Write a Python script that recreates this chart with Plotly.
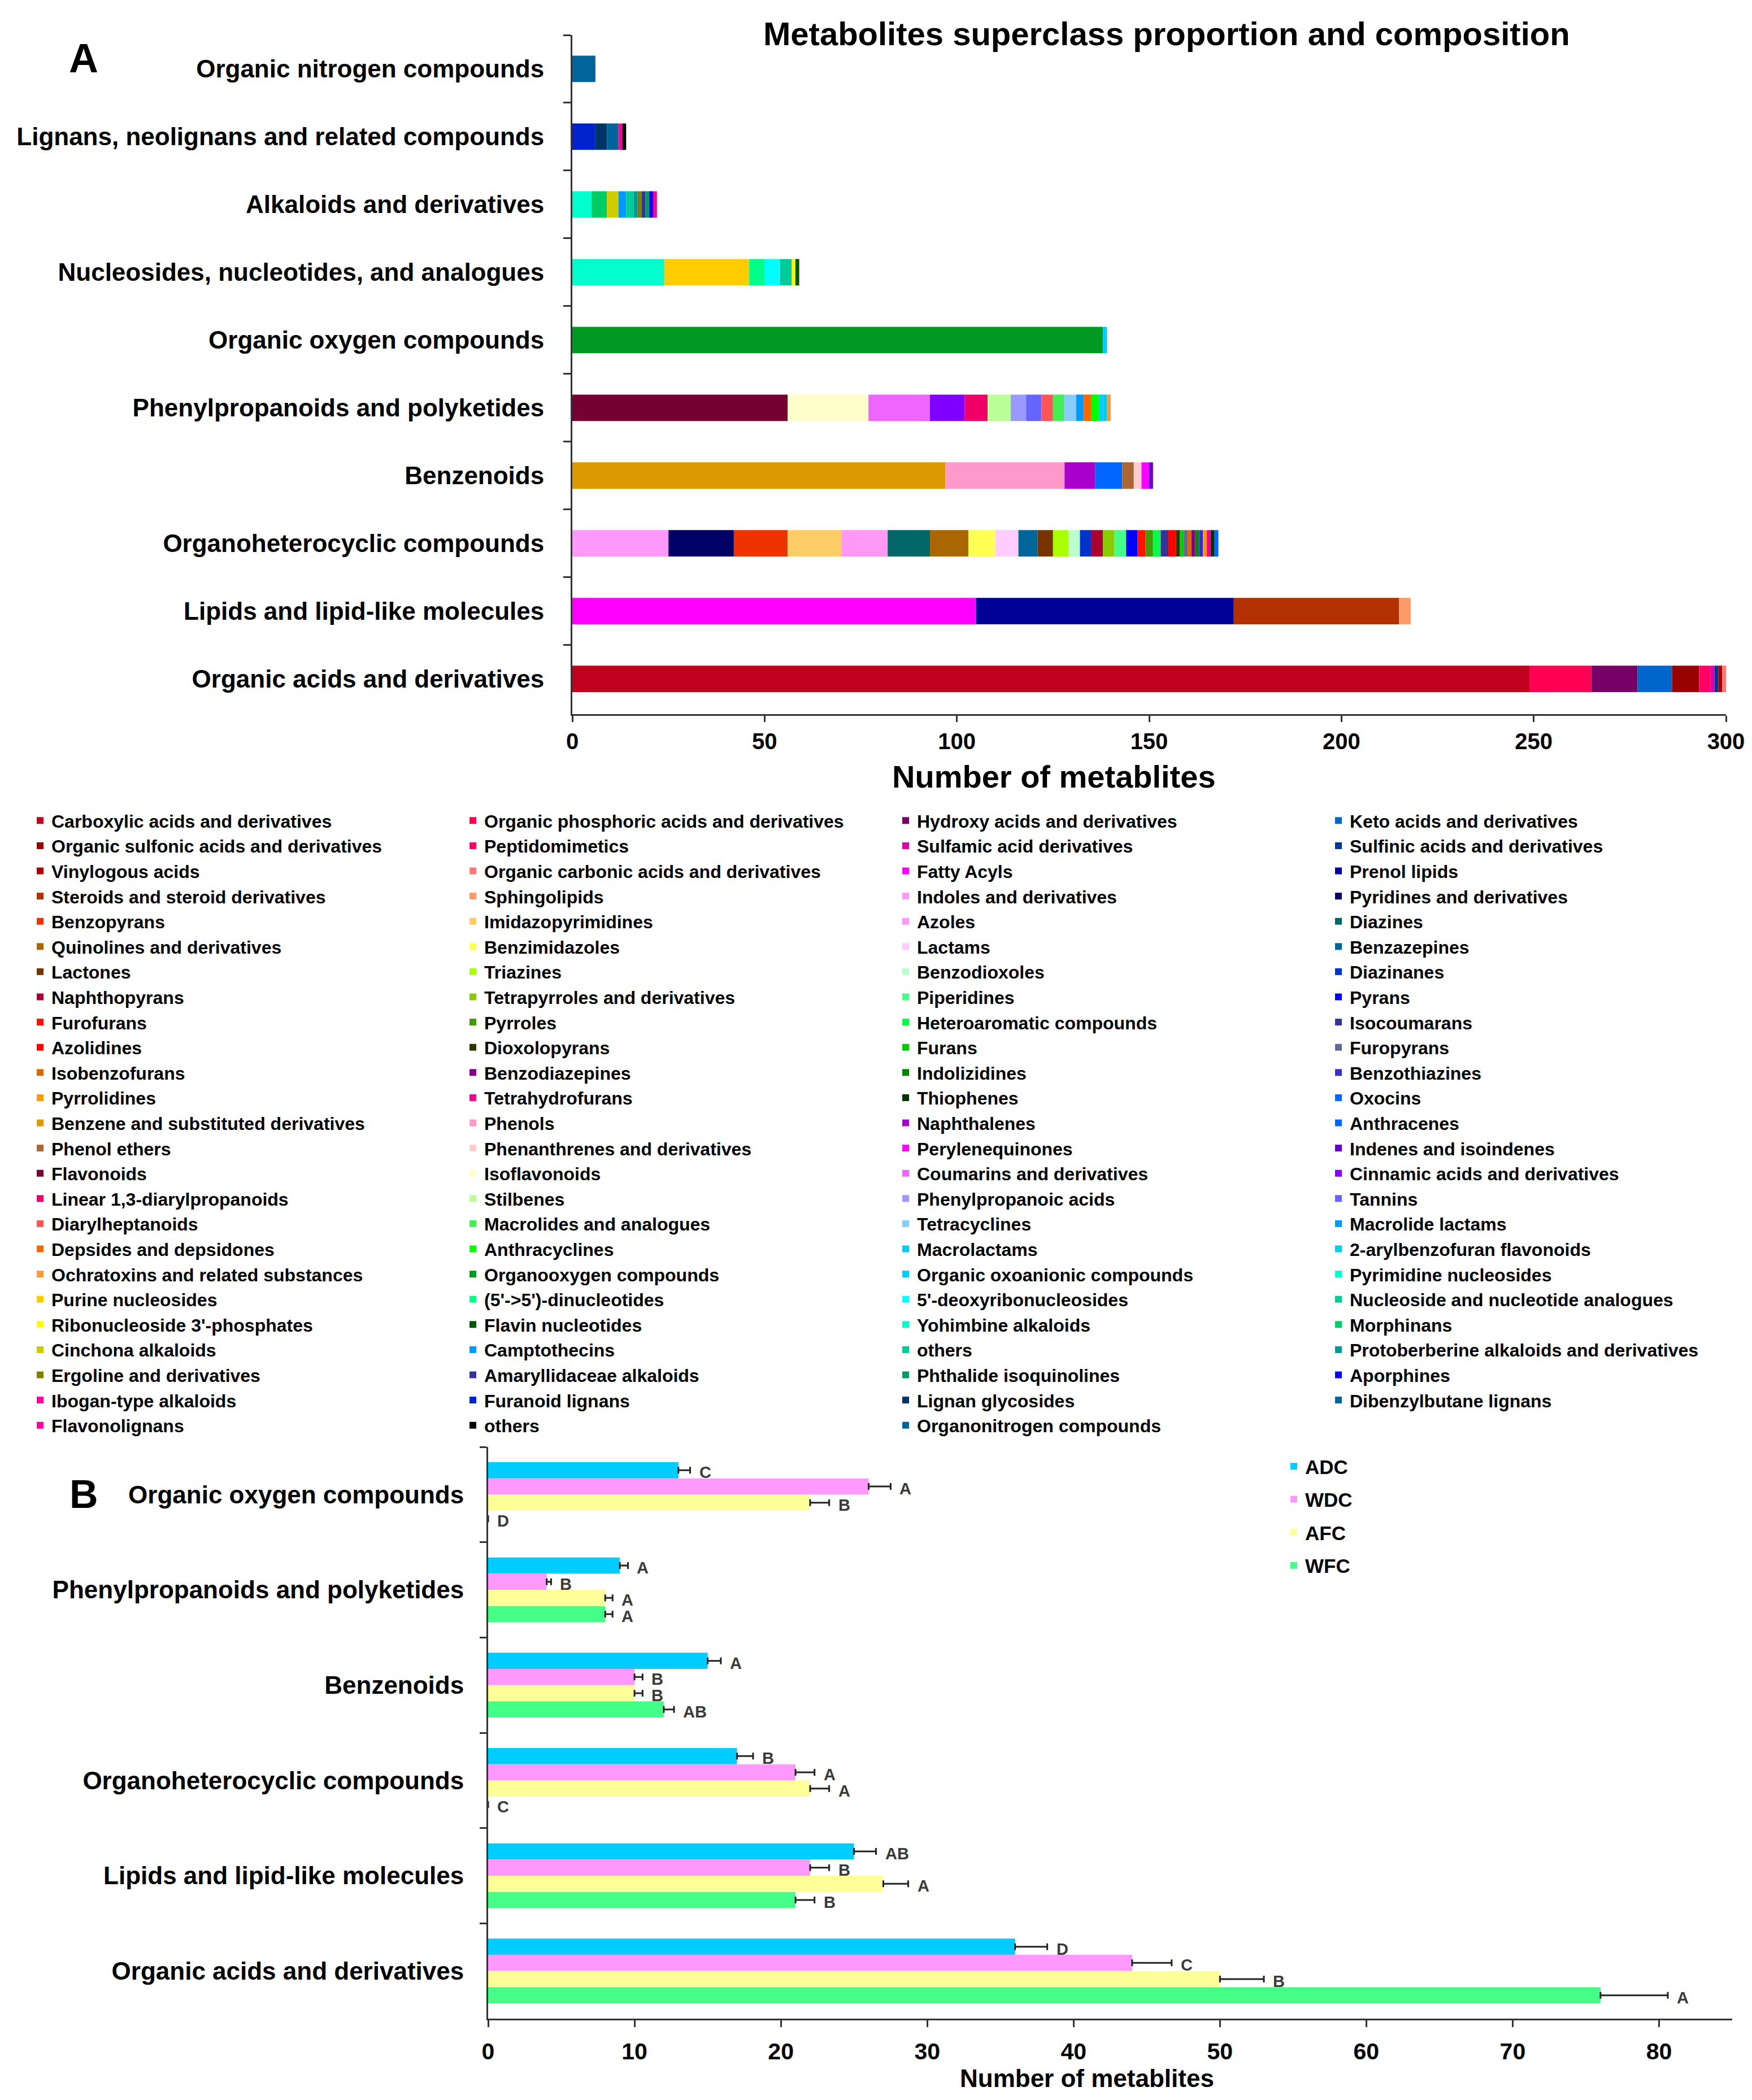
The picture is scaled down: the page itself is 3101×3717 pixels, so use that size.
import plotly.graph_objects as go

# ---------------- DATA ----------------
superclasses = [
    "Organic nitrogen compounds",
    "Lignans, neolignans and related compounds",
    "Alkaloids and derivatives",
    "Nucleosides, nucleotides, and analogues",
    "Organic oxygen compounds",
    "Phenylpropanoids and polyketides",
    "Benzenoids",
    "Organoheterocyclic compounds",
    "Lipids and lipid-like molecules",
    "Organic acids and derivatives",
]

OA, LI, OH, BZ, PP, OO, NU, AL, LG, ON = (
    "Organic acids and derivatives", "Lipids and lipid-like molecules",
    "Organoheterocyclic compounds", "Benzenoids", "Phenylpropanoids and polyketides",
    "Organic oxygen compounds", "Nucleosides, nucleotides, and analogues",
    "Alkaloids and derivatives", "Lignans, neolignans and related compounds",
    "Organic nitrogen compounds")

subclass_names = [
    "Carboxylic acids and derivatives", "Organic phosphoric acids and derivatives",
    "Hydroxy acids and derivatives", "Keto acids and derivatives",
    "Organic sulfonic acids and derivatives", "Peptidomimetics",
    "Sulfamic acid derivatives", "Sulfinic acids and derivatives",
    "Vinylogous acids", "Organic carbonic acids and derivatives",
    "Fatty Acyls", "Prenol lipids", "Steroids and steroid derivatives", "Sphingolipids",
    "Indoles and derivatives", "Pyridines and derivatives", "Benzopyrans", "Imidazopyrimidines",
    "Azoles", "Diazines", "Quinolines and derivatives", "Benzimidazoles",
    "Lactams", "Benzazepines", "Lactones", "Triazines",
    "Benzodioxoles", "Diazinanes", "Naphthopyrans", "Tetrapyrroles and derivatives",
    "Piperidines", "Pyrans", "Furofurans", "Pyrroles",
    "Heteroaromatic compounds", "Isocoumarans", "Azolidines", "Dioxolopyrans",
    "Furans", "Furopyrans", "Isobenzofurans", "Benzodiazepines",
    "Indolizidines", "Benzothiazines", "Pyrrolidines", "Tetrahydrofurans",
    "Thiophenes", "Oxocins",
    "Benzene and substituted derivatives", "Phenols", "Naphthalenes", "Anthracenes",
    "Phenol ethers", "Phenanthrenes and derivatives", "Perylenequinones", "Indenes and isoindenes",
    "Flavonoids", "Isoflavonoids", "Coumarins and derivatives", "Cinnamic acids and derivatives",
    "Linear 1,3-diarylpropanoids", "Stilbenes", "Phenylpropanoic acids", "Tannins",
    "Diarylheptanoids", "Macrolides and analogues", "Tetracyclines", "Macrolide lactams",
    "Depsides and depsidones", "Anthracyclines", "Macrolactams", "2-arylbenzofuran flavonoids",
    "Ochratoxins and related substances",
    "Organooxygen compounds", "Organic oxoanionic compounds",
    "Pyrimidine nucleosides", "Purine nucleosides", "(5'->5')-dinucleotides",
    "5'-deoxyribonucleosides", "Nucleoside and nucleotide analogues",
    "Ribonucleoside 3'-phosphates", "Flavin nucleotides",
    "Yohimbine alkaloids", "Morphinans", "Cinchona alkaloids", "Camptothecins",
    "others", "Protoberberine alkaloids and derivatives", "Ergoline and derivatives",
    "Amaryllidaceae alkaloids", "Phthalide isoquinolines", "Aporphines", "Ibogan-type alkaloids",
    "Furanoid lignans", "Lignan glycosides", "Dibenzylbutane lignans", "Flavonolignans", "others",
    "Organonitrogen compounds",
]

subclass_parent = (
    [OA] * 10 + [LI] * 4 + [OH] * 34 + [BZ] * 8 + [PP] * 17 + [OO] * 2
    + [NU] * 7 + [AL] * 11 + [LG] * 5 + [ON] * 1
)

subclass_counts = [
    249, 16, 12, 9, 7, 3, 1, 1, 1, 1,
    105, 67, 43, 3,
    25, 17, 14, 14, 12, 11, 10, 7, 6, 5, 4, 4, 3, 3, 3, 3, 3, 3, 2, 2, 2, 2, 2,
    1, 1, 1, 1, 1, 1, 1, 1, 1, 1, 1,
    97, 31, 8, 7, 3, 2, 2, 1,
    56, 21, 16, 9, 6, 6, 4, 4, 3, 3, 3, 2, 2, 2, 1, 1, 1,
    138, 1,
    24, 22, 4, 4, 3, 1, 1,
    5, 4, 3, 2, 2, 1, 1, 1, 1, 1, 1,
    6, 3, 3, 1, 1,
    6,
]

# Panel B
groups_b = [
    "Organic oxygen compounds", "Phenylpropanoids and polyketides", "Benzenoids",
    "Organoheterocyclic compounds", "Lipids and lipid-like molecules",
    "Organic acids and derivatives",
]
series_b = ["ADC", "WDC", "AFC", "WFC"]
adc = [13, 9, 15, 17, 25, 36]
wdc = [26, 4, 10, 21, 22, 44]
afc = [22, 8, 10, 22, 27, 50]
wfc = [0, 8, 12, 0, 21, 76]
adc_err = [0.8, 0.55, 0.9, 1.1, 1.5, 2.2]
wdc_err = [1.5, 0.3, 0.55, 1.3, 1.3, 2.7]
afc_err = [1.3, 0.5, 0.55, 1.3, 1.7, 3.0]
wfc_err = [0, 0.5, 0.7, 0, 1.3, 4.6]
adc_letters = ["C", "A", "A", "B", "AB", "D"]
wdc_letters = ["A", "B", "B", "A", "B", "C"]
afc_letters = ["B", "A", "B", "A", "A", "B"]
wfc_letters = ["D", "A", "AB", "C", "B", "A"]

# ---------------- STYLE ----------------
subclass_colors = [
    "#c0001e", "#ff0055", "#770066", "#0066cc", "#990000", "#ff0066", "#dd00aa", "#003399",
    "#aa0000", "#ff7777",
    "#ff00ff", "#000099", "#b33000", "#ff9966",
    "#ff99ff", "#000066", "#ee3300", "#ffcc66", "#ff99f5", "#006666", "#aa6600", "#ffff55",
    "#ffccff", "#006699", "#773300", "#aaff00", "#bbffcc", "#0033cc", "#aa0033", "#88cc00",
    "#44ff88", "#0000ff", "#ff1100", "#449900", "#00ff44", "#333399", "#ff0000", "#333300",
    "#00cc00", "#666699", "#dd6600", "#880088", "#008800", "#3333cc", "#ff9900", "#ee0088",
    "#003300", "#0066ff",
    "#dd9900", "#ff99cc", "#aa00cc", "#0066ff", "#aa6633", "#ffcccc", "#ff00ff", "#6600cc",
    "#770033", "#ffffcc", "#ee66ff", "#7f00ff", "#ee0066", "#bbff99", "#9999ff", "#6666ff",
    "#ff5555", "#44ee55", "#88ccff", "#0099ff", "#ff6600", "#00ff00", "#00ccff", "#00ccee",
    "#ff9933",
    "#009922", "#00ccff",
    "#00ffcc", "#ffcc00", "#00ff88", "#00ffff", "#00cc99", "#ffff00", "#005500",
    "#00ffcc", "#00cc66", "#cccc00", "#0099ff", "#00cc99", "#009999", "#808000", "#333399",
    "#009966", "#0000ff", "#ff0099",
    "#0022cc", "#003366", "#006699", "#ff0099", "#000000",
    "#006699",
]
colors_b = ["#00ccff", "#ff99ff", "#ffff99", "#44ff88"]

W, H = 3101, 3717
ML, MR, MT, MB = 20, 17, 20, 20
GW = W - ML - MR
GH = H - MT - MB


def px(X):
    return (X - ML) / GW


def py(Y):
    return (H - MB - Y) / GH


FONT = "Liberation Sans, Arial, Helvetica, sans-serif"
AXC = "#333333"

fig = go.Figure()

# ---- Panel A: stacked composition (base = running total per superclass) ----
running = {s: 0 for s in superclasses}
for name, parent, n, col in zip(subclass_names, subclass_parent, subclass_counts, subclass_colors):
    b = running[parent]
    running[parent] += n
    fig.add_trace(go.Bar(
        y=[parent], x=[n], base=[b], orientation="h", name=name,
        marker=dict(color=col, line=dict(width=0)),
        offsetgroup="A", width=0.39, xaxis="x", yaxis="y", legend="legend",
        hovertemplate=name + ": %{x}<extra>" + parent + "</extra>",
    ))

# ---- Panel B: grouped bars ----
vals_b = [adc, wdc, afc, wfc]
errs_b = [adc_err, wdc_err, afc_err, wfc_err]
lets_b = [adc_letters, wdc_letters, afc_letters, wfc_letters]
for name, v, e, col in zip(series_b, vals_b, errs_b, colors_b):
    fig.add_trace(go.Bar(
        y=groups_b, x=v, orientation="h", name=name,
        marker=dict(color=col, line=dict(width=0)),
        error_x=dict(type="data", array=e, arrayminus=[0] * len(e), symmetric=False,
                     color="#222222", thickness=3, width=6),
        xaxis="x2", yaxis="y2", legend="legend2", legendgroup=name,
    ))

bargap = 0.32
slot = (1 - bargap) / len(series_b)
annotations = []
for i, (v, e, L) in enumerate(zip(vals_b, errs_b, lets_b)):
    off = -(1 - bargap) / 2 + slot * (i + 0.5)
    for j in range(len(groups_b)):
        annotations.append(dict(
            x=v[j] + e[j], y=j + off, xref="x2", yref="y2", text=L[j],
            showarrow=False, xanchor="left", yanchor="middle", xshift=14, yshift=-4,
            font=dict(family=FONT, size=29, color="#3a3a3a", weight="bold"),
        ))

# text annotations
annotations += [
    dict(x=px(2057), y=py(52), xref="paper", yref="paper",
         text="Metabolites superclass proportion and composition", showarrow=False,
         xanchor="center", yanchor="middle",
         font=dict(family=FONT, size=58, color="black", weight="bold")),
    dict(x=px(140), y=py(95), xref="paper", yref="paper", text="A", showarrow=False,
         xanchor="center", yanchor="middle",
         font=dict(family=FONT, size=72, color="black", weight="bold")),
    dict(x=px(140), y=py(2637), xref="paper", yref="paper", text="B", showarrow=False,
         xanchor="center", yanchor="middle",
         font=dict(family=FONT, size=70, color="black", weight="bold")),
    dict(x=px(1857), y=py(1366), xref="paper", yref="paper", text="Number of metablites",
         showarrow=False, xanchor="center", yanchor="middle",
         font=dict(family=FONT, size=56, color="black", weight="bold")),
    dict(x=px(1916), y=py(3670), xref="paper", yref="paper", text="Number of metablites",
         showarrow=False, xanchor="center", yanchor="middle",
         font=dict(family=FONT, size=44, color="black", weight="bold")),
]

axis_common = dict(showgrid=False, zeroline=False, showline=True, linecolor=AXC,
                   linewidth=3, ticks="outside", tickcolor=AXC, tickwidth=3,
                   automargin=False)

fig.update_layout(
    width=W, height=H,
    margin=dict(l=ML, r=MR, t=MT, b=MB, autoexpand=False),
    paper_bgcolor="white", plot_bgcolor="white",
    barmode="group", bargap=bargap, bargroupgap=0,
    font=dict(family=FONT, color="black"),
    xaxis=dict(domain=[px(1005), px(3047)], anchor="y", range=[0, 300], dtick=50,
               ticklen=11, tickfont=dict(family=FONT, size=40, color="black", weight="bold"),
               **axis_common),
    yaxis=dict(domain=[py(1256), py(54)], anchor="x", type="category",
               categoryorder="array", categoryarray=superclasses, range=[9.52, -0.5],
               tickson="boundaries", ticklen=13, ticklabelstandoff=38,
               tickfont=dict(family=FONT, size=44, color="black", weight="bold"),
               **axis_common),
    xaxis2=dict(domain=[px(856), px(3058)], anchor="y2", range=[0, 85], dtick=10,
                ticklen=12, ticklabelstandoff=8,
                tickfont=dict(family=FONT, size=41, color="black", weight="bold"),
                **axis_common),
    yaxis2=dict(domain=[py(3565), py(2553)], anchor="x2", type="category",
                categoryorder="array", categoryarray=groups_b, range=[5.5, -0.5],
                tickson="boundaries", ticklen=12, ticklabelstandoff=31,
                tickfont=dict(family=FONT, size=44, color="black", weight="bold"),
                **axis_common),
    legend=dict(orientation="h", x=px(43), y=py(1417), xanchor="left", yanchor="top",
                entrywidthmode="fraction", entrywidth=0.25, traceorder="normal",
                bgcolor="rgba(0,0,0,0)",
                font=dict(family=FONT, size=32, color="black", weight="bold")),
    legend2=dict(orientation="v", x=px(2262), y=py(2558), xanchor="left", yanchor="top",
                 traceorder="grouped", tracegroupgap=10, bgcolor="rgba(0,0,0,0)",
                 font=dict(family=FONT, size=35, color="black", weight="bold")),
    annotations=annotations,
    showlegend=True,
)

fig.write_html("out.html")
